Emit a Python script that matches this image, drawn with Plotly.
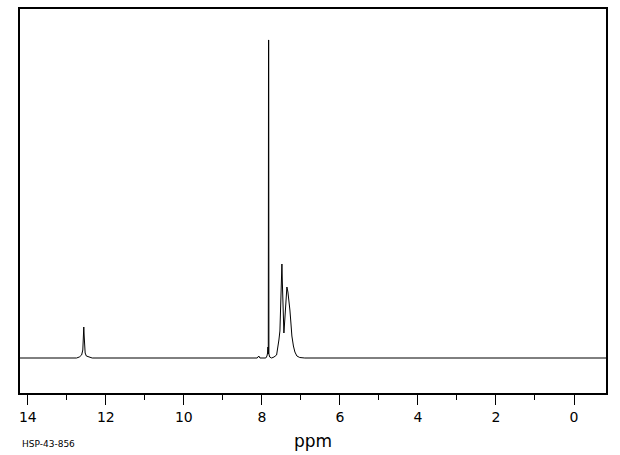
import plotly.graph_objects as go

# Chemical shift (ppm) and relative intensity
ppm = [14.20, 12.75, 12.68, 12.62, 12.59, 12.575, 12.565, 12.555, 12.545, 12.53, 12.50, 12.44, 12.35,
       8.12, 8.08, 8.05, 7.90, 7.87, 7.855, 7.845, 7.836, 7.830, 7.825, 7.820, 7.812, 7.80, 7.75,
       7.69, 7.623, 7.590, 7.564, 7.538, 7.513, 7.495, 7.487, 7.475, 7.462, 7.436, 7.410, 7.385,
       7.359, 7.333, 7.308, 7.282, 7.256, 7.231, 7.192, 7.154, 7.103, 7.03, 6.90, -0.82]
intensity = [0, 0, 1, 3, 8, 18, 31, 22, 10, 5, 2, 1, 0,
             0, 2, 0, 0, 2, 5, 11, 4, 318, 318, 4, 2, 1, 0,
             1, 3, 10, 18, 27, 60, 88, 94, 75, 50, 25, 40, 60,
             71, 66, 58, 48, 35, 22, 12, 6, 2, 0.5, 0, 0]

x_ticks = [14, 12, 10, 8, 6, 4, 2, 0]
x_ticktext = ["14", "12", "10", "8", "6", "4", "2", "0"]
x_range = [14.2, -0.82]
y_range = [-35, 349]

fig = go.Figure()
fig.add_trace(go.Scatter(x=ppm, y=intensity, mode="lines",
                         line=dict(color="black", width=1), hoverinfo="skip",
                         showlegend=False))

fig.update_layout(
    width=620, height=455,
    margin=dict(l=20, r=14, t=9, b=62),
    paper_bgcolor="white", plot_bgcolor="white",
    font=dict(family="DejaVu Sans", color="black"),
    xaxis=dict(
        range=x_range, showgrid=False, zeroline=False, automargin=False,
        showline=True, mirror=True, linecolor="black", linewidth=1.5,
        tickmode="array", tickvals=x_ticks, ticktext=x_ticktext,
        ticks="outside", ticklen=10, tickwidth=1, tickcolor="black",
        tickfont=dict(size=14, color="black"),
        minor=dict(dtick=1, tick0=0, ticks="outside", ticklen=5, tickwidth=1, tickcolor="black"),
    ),
    yaxis=dict(
        range=y_range, showgrid=False, zeroline=False, showticklabels=False, automargin=False,
        ticks="", showline=True, mirror=True, linecolor="black", linewidth=1.5,
    ),
    annotations=[
        dict(text="ppm", xref="paper", yref="paper", x=0.5, y=-0.125,
             xanchor="center", yanchor="middle", showarrow=False,
             font=dict(size=17, color="black", family="DejaVu Sans")),
        dict(text="HSP-43-856", xref="paper", yref="paper", x=0, y=-0.133,
             xanchor="left", yanchor="middle", showarrow=False,
             font=dict(size=9, color="black", family="DejaVu Sans")),
    ],
)

fig.write_html("out.html", config={"displayModeBar": False},
               post_script="document.body.style.margin='0px';document.body.style.overflow='hidden';")
